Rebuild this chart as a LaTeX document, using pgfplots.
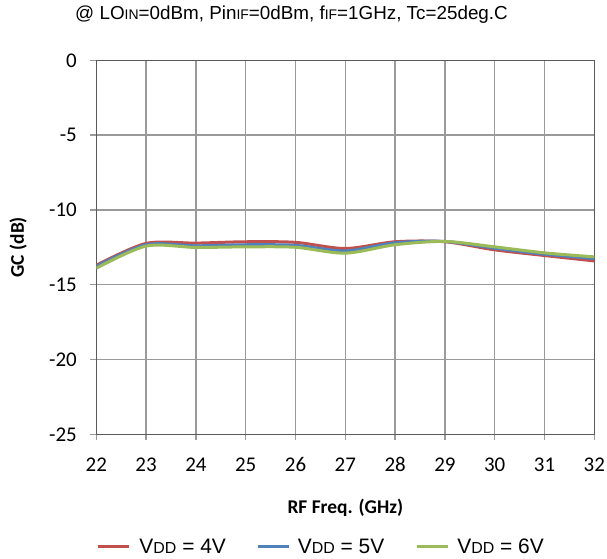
\documentclass[border=0pt]{standalone}
\usepackage{pgfplots}
\pgfplotsset{compat=1.18}
\usepackage{fontspec}
\setmainfont{Carlito}
\newfontfamily\arialf{Liberation Sans}
\definecolor{cred}{HTML}{C0504D}
\definecolor{cblue}{HTML}{4F81BD}
\definecolor{cgreen}{HTML}{9BBB59}
\definecolor{gridc}{HTML}{9A9A9A}
\definecolor{axc}{HTML}{5A5A5A}
\newcommand\tsm[1]{{\fontsize{14}{14}\selectfont #1}}
\newcommand\lsm[1]{{\fontsize{16}{16}\selectfont #1}}
\begin{document}
\begin{tikzpicture}
\useasboundingbox (0,0) rectangle (607bp,559bp);
\begin{axis}[
  at={(96.3bp,124.7bp)}, anchor=south west,
  scale only axis, width=498bp, height=374bp,
  xmin=22, xmax=32, ymin=-25, ymax=0,
  xtick={22,23,...,32}, ytick={-25,-20,...,0},
  grid=major,
  grid style={gridc, line width=1.3bp},
  axis line style={axc, line width=1.5bp},
  tick style={gridc, line width=1.3bp},
  tick align=outside, major tick length=6bp,
  xtick pos=bottom, ytick pos=left,
  ticklabel style={font=\fontsize{21}{21}\selectfont},
  xticklabel style={text height=13.5bp, text depth=0pt, yshift=-14bp},
  yticklabel style={xshift=-10bp},
  /pgf/number format/assume math mode=true,
  xlabel={\bfseries RF Freq. (GHz)},
  ylabel={\bfseries GC (dB)},
  label style={font=\fontsize{19.5}{19.5}\selectfont},
  xlabel style={at={(0.5,-0.197)}, anchor=center},
  ylabel style={at={(-0.157,0.5)}, anchor=center},
  legend columns=3,
  legend style={draw=none, fill=none, at={(0.0,-0.3013)}, anchor=west,
    font=\arialf\fontsize{21}{21}\selectfont, inner sep=0pt,
    /tikz/every even column/.append style={column sep=31bp},
    nodes={inner sep=0pt, anchor=west}},
  legend image code/.code={\draw[#1, line width=3bp] (0bp,0bp) -- (31bp,0bp);},
  legend cell align=left,
]
\addplot[cred, line width=3bp, smooth] coordinates {
(22,-13.70) (23,-12.24) (24,-12.22) (25,-12.13) (26,-12.17) (27,-12.58) (28,-12.13) (29,-12.13) (30,-12.67) (31,-13.05) (32,-13.41)};
\addlegendentry{\hspace{9bp}V\lsm{DD} = 4V}
\addplot[cblue, line width=3bp, smooth] coordinates {
(22,-13.78) (23,-12.33) (24,-12.40) (25,-12.33) (26,-12.37) (27,-12.74) (28,-12.20) (29,-12.11) (30,-12.56) (31,-12.96) (32,-13.25)};
\addlegendentry{\hspace{7bp}V\lsm{DD} = 5V}
\addplot[cgreen, line width=3bp, smooth] coordinates {
(22,-13.90) (23,-12.42) (24,-12.51) (25,-12.47) (26,-12.50) (27,-12.89) (28,-12.33) (29,-12.11) (30,-12.47) (31,-12.87) (32,-13.14)};
\addlegendentry{\hspace{8bp}V\lsm{DD} = 6V}
\end{axis}
\node[anchor=base, font=\arialf\fontsize{18.9}{18.9}\selectfont] at (291.5bp,539bp)
  {@ LO\tsm{IN}=0dBm, Pin\tsm{IF}=0dBm, f\tsm{IF}=1GHz, Tc=25deg.C};
\end{tikzpicture}
\end{document}
